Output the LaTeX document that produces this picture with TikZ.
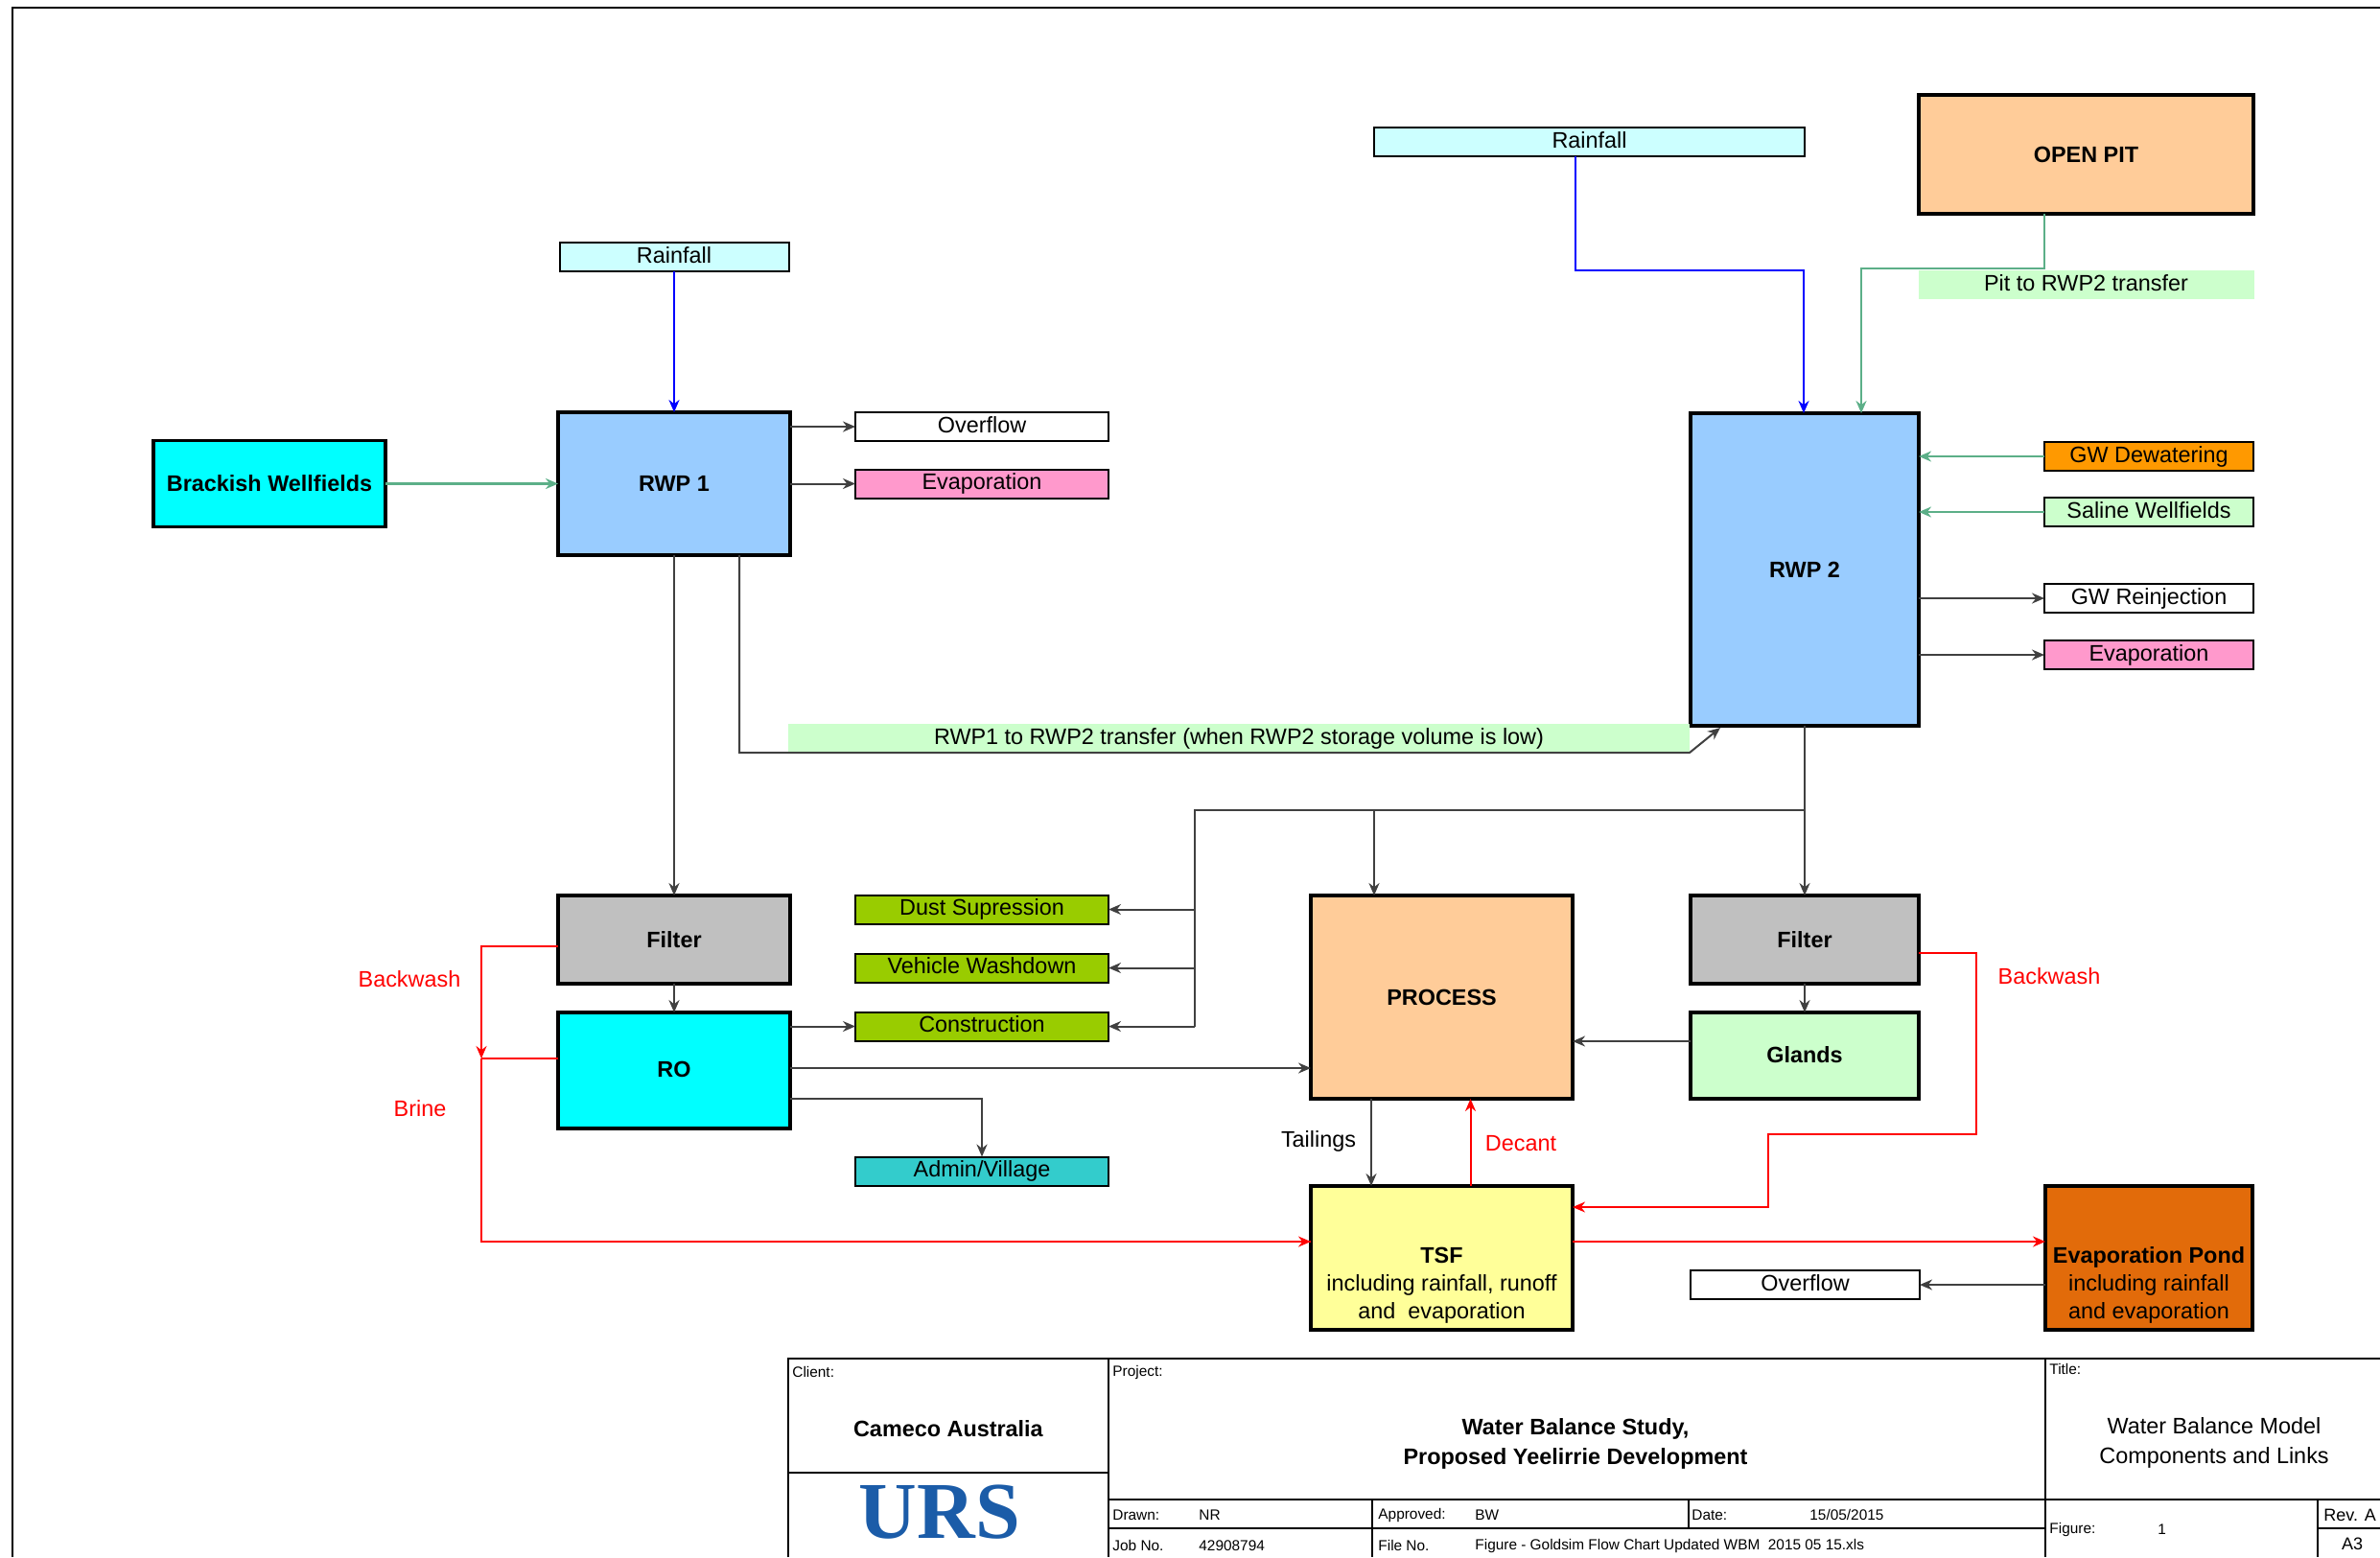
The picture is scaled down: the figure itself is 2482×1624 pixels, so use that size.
\documentclass[tikz,border=0pt]{standalone}
\usepackage{fontspec}
\setmainfont{Liberation Sans}
\newfontfamily\logofont{Liberation Serif}
\usepackage{tikz}
\usetikzlibrary{arrows.meta, positioning}
\definecolor{SheetBlue}{HTML}{99CCFF}
\definecolor{SheetCyan}{HTML}{00FFFF}
\definecolor{SheetSky}{HTML}{CCFFFF}
\definecolor{SheetMint}{HTML}{CCFFCC}
\definecolor{SheetTan}{HTML}{FFCC99}
\definecolor{SheetLime}{HTML}{99CC00}
\definecolor{SheetTeal}{HTML}{33CCCC}
\definecolor{SheetPink}{HTML}{FF99CC}
\definecolor{SheetAmber}{HTML}{FF9900}
\definecolor{SheetRust}{HTML}{E26B0A}
\definecolor{SheetLemon}{HTML}{FFFF99}
\definecolor{SheetGrey}{HTML}{C0C0C0}
\definecolor{LinkGreen}{HTML}{5CAF88}
\definecolor{LogoBlue}{HTML}{1B5CA8}
\tikzstyle{block} = [rectangle, text centered, draw=black, line width=1.6pt, outer sep=0pt, inner sep=0pt, align=center, font=\fontsize{11.7}{14.5}\selectfont]
\tikzstyle{stream} = [rectangle, text centered, draw=black, line width=1pt, outer sep=0pt, inner sep=0pt, minimum width=132pt, minimum height=15pt, text height=8.5pt, text depth=2.5pt, font=\fontsize{11.7}{14}\selectfont]
\tikzstyle{tag} = [rectangle, text centered, outer sep=0pt, inner sep=0pt, fill=SheetMint, minimum height=15pt, text height=8.5pt, text depth=2.5pt, font=\fontsize{11.7}{14}\selectfont]
\tikzstyle{redtext} = [text=red, inner sep=0pt, font=\fontsize{11.7}{14}\selectfont]
\tikzstyle{arrow} = [line width=1pt, black!75, -{Stealth[length=6.5pt, width=5.5pt]}]
\tikzstyle{redarrow} = [line width=1pt, red, -{Stealth[length=6.5pt, width=5.5pt]}]
\tikzstyle{bluearrow} = [line width=1pt, blue, -{Stealth[length=6.5pt, width=5.5pt]}]
\tikzstyle{greenarrow} = [line width=1.3pt, LinkGreen, -{Stealth[length=6.5pt, width=5.5pt]}]
\tikzstyle{tblline} = [line width=0.9pt, black]
\tikzstyle{tblsmall} = [anchor=west, inner sep=0pt, font=\fontsize{7.7}{9}\selectfont]
\tikzstyle{tblmain} = [inner sep=0pt, align=center, font=\fontsize{11.7}{15.5}\selectfont]
\newcommand{\boxhead}[1]{\textbf{#1}}

\begin{document}
\begin{tikzpicture}[x=0.5pt, y=-0.5pt]
  \useasboundingbox (0,0) rectangle (2482,1624);
  \draw [tblline] (13,1624) -- (13,8) -- (2482,8);

  % left water pond and what hangs on it
  \node (rwpone) [block, fill=SheetBlue, minimum width=121pt, minimum height=74.5pt] at (703,504.5) {\boxhead{RWP 1}};
  \node (rainone) [stream, fill=SheetSky, minimum width=119.5pt, above=73.5pt of rwpone] {Rainfall};
  \node (brackish) [block, fill=SheetCyan, minimum width=121pt, minimum height=45pt, left=90pt of rwpone] {\boxhead{Brackish Wellfields}};
  \node (overflowone) [stream, right=34pt of rwpone.east, yshift=29.75pt] {Overflow};
  \node (evapone) [stream, fill=SheetPink, right=34pt of rwpone] {Evaporation};
  \node (filterone) [block, fill=SheetGrey, minimum width=121pt, minimum height=46pt, below=177.5pt of rwpone] {\boxhead{Filter}};
  \node (ro) [block, fill=SheetCyan, minimum width=121pt, minimum height=60.5pt, below=15pt of filterone] {\raisebox{1pt}{\boxhead{RO}}};
  \node (dust) [stream, fill=SheetLime, right=34pt of filterone.east, yshift=15.75pt] {Dust Supression};
  \node (vehicle) [stream, fill=SheetLime, below=15.5pt of dust] {Vehicle Washdown};
  \node (construction) [stream, fill=SheetLime, below=15.5pt of vehicle] {Construction};
  \node (admin) [stream, fill=SheetTeal, below=60.5pt of construction] {Admin/Village};

  % process and tailings
  \node (process) [block, fill=SheetTan, minimum width=136.5pt, minimum height=106pt] at (1503.5,1040) {\boxhead{PROCESS}};
  \node (tsf) [block, fill=SheetLemon, minimum width=136.5pt, minimum height=75pt, below=45.5pt of process] {~\\[8pt]~\\\boxhead{TSF}\\including rainfall, runoff\\and\ \ evaporation};
  \node (pond) [block, fill=SheetRust, minimum width=108pt, minimum height=75pt, right=246.5pt of tsf] {~\\[8pt]~\\\boxhead{Evaporation Pond}\\including rainfall\\and evaporation};
  \node (overflowtwo) [stream, minimum width=119.5pt, left=65.5pt of pond, yshift=-14pt] {Overflow};

  % right water pond
  \node (rwptwo) [block, fill=SheetBlue, minimum width=119pt, minimum height=163pt] at (1882,594) {\boxhead{RWP 2}};
  \node (filtertwo) [block, fill=SheetGrey, minimum width=119pt, minimum height=46pt, below=88.5pt of rwptwo] {\boxhead{Filter}};
  \node (glands) [block, fill=SheetMint, minimum width=119pt, minimum height=45pt, below=15pt of filtertwo] {\raisebox{1pt}{\boxhead{Glands}}};
  \node (raintwo) [stream, fill=SheetSky, minimum width=224.5pt] at (1657.5,148) {Rainfall};
  \node (openpit) [block, fill=SheetTan, minimum width=174.5pt, minimum height=62pt] at (2175.5,161) {\boxhead{OPEN PIT}};
  \node (pittag) [tag, minimum width=175pt, below=29.5pt of openpit] {Pit to RWP2 transfer};
  \node (dewater) [stream, fill=SheetAmber, minimum width=109pt, right=65.5pt of rwptwo.east, yshift=59pt] {GW Dewatering};
  \node (saline) [stream, fill=SheetMint, minimum width=109pt, below=14pt of dewater] {Saline Wellfields};
  \node (reinject) [stream, minimum width=109pt, below=30pt of saline] {GW Reinjection};
  \node (evaptwo) [stream, fill=SheetPink, minimum width=109pt, below=14.5pt of reinject] {Evaporation};
  \node (transfertag) [tag, minimum width=470pt] at (1292,770) {RWP1 to RWP2 transfer (when RWP2 storage volume is low)};

  % free labels
  \node (bwleft) [redtext] at (427,1021) {Backwash};
  \node (brine) [redtext] at (438,1156) {Brine};
  \node (bwright) [redtext] at (2137,1018) {Backwash};
  \node (tailings) [inner sep=0pt, font=\fontsize{11.7}{14}\selectfont] at (1375,1190) {Tailings};
  \node (decant) [redtext] at (1586,1193) {Decant};

  \coordinate (supply) at (1246,845);
  \coordinate (rwpsplit) at (rwptwo |- supply);
  \coordinate (procin) at ([xshift=-35.25pt]process.north);
  \coordinate (brinejoin) at (502,1104);
  \coordinate (brinein) at ([yshift=8.5pt]tsf.west);
  \coordinate (bwbend) at (2061,1183);
  \coordinate (bwdrop) at (1844,1183);
  \coordinate (bwin) at ([yshift=26.5pt]tsf.east);
  \coordinate (lowrun) at (771,785);
  \coordinate (lowend) at (1762,785);
  \coordinate (lowtip) at (1794,759);
  \coordinate (rainrun) at (1881,282);
  \coordinate (pitrun) at (1941,280);

  \draw [bluearrow] (rainone) -- (rwpone);
  \draw [greenarrow] (brackish) -- (rwpone);
  \draw [arrow] (rwpone.east |- overflowone) -- (overflowone);
  \draw [arrow] (rwpone) -- (evapone);
  \draw [arrow] (rwpone) -- (filterone);
  \draw [arrow] (filterone) -- (ro);
  \draw [arrow] (ro.east |- construction) -- (construction);
  \draw [arrow] ([yshift=1.25pt]ro.east) -- ([yshift=1.25pt]ro.east -| process.west);
  \draw [arrow] ([yshift=-14.75pt]ro.east) -| (admin);
  \draw [arrow] (rwpone.south -| lowrun) -- (lowrun) -- (lowend) -- (lowtip);

  \draw [bluearrow] ([xshift=-7.25pt]raintwo.south) |- (rainrun) -- (rainrun |- rwptwo.north);
  \draw [greenarrow] ([xshift=-21.75pt]openpit.south) |- (pitrun) -- (pitrun |- rwptwo.north);
  \draw [greenarrow] (dewater) -- (rwptwo.east |- dewater);
  \draw [greenarrow] (saline) -- (rwptwo.east |- saline);
  \draw [arrow] (rwptwo.east |- reinject) -- (reinject);
  \draw [arrow] (rwptwo.east |- evaptwo) -- (evaptwo);
  \draw [arrow] (rwptwo) -- (filtertwo);
  \draw [arrow] (filtertwo) -- (glands);
  \draw [arrow] ([yshift=7.5pt]glands.west) -- ([yshift=7.5pt]glands.west -| process.east);
  \draw [line width=1pt, black!75] (rwpsplit) -- (supply) -- (supply |- construction);
  \draw [arrow] (procin |- supply) -- (procin);
  \draw [arrow] (supply |- dust) -- (dust);
  \draw [arrow] (supply |- vehicle) -- (vehicle);
  \draw [arrow] (supply |- construction) -- (construction);
  \draw [arrow] ([xshift=-36.75pt]process.south) -- ([xshift=-36.75pt]tsf.north);
  \draw [redarrow] ([xshift=15pt]tsf.north) -- ([xshift=15pt]process.south);
  \draw [redarrow] ([yshift=-3.5pt]filterone.west) -| (brinejoin);
  \draw [red, line width=1pt] ([yshift=6.25pt]ro.west) -- (brinejoin);
  \draw [red, line width=1pt] (brinejoin) |- (brinein);
  \draw [redarrow] (brinejoin |- brinein) -- (brinein);
  \draw [redarrow] ([yshift=-7pt]filtertwo.east) -| (bwbend) -- (bwdrop) |- (bwin);
  \draw [redarrow] (tsf.east |- brinein) -- (pond.west |- brinein);
  \draw [arrow] (pond.west |- overflowtwo) -- (overflowtwo);

  % title block
  \draw [tblline] (822,1624) -- (822,1417) -- (2482,1417);
  \draw [tblline] (822,1536) -- (1156,1536);
  \draw [tblline] (1156,1417) -- (1156,1624);
  \draw [tblline] (2133,1417) -- (2133,1624);
  \draw [tblline] (1156,1564) -- (2482,1564);
  \draw [tblline] (1156,1594) -- (2133,1594);
  \draw [tblline] (2417,1594) -- (2482,1594);
  \draw [tblline] (2417,1564) -- (2417,1624);
  \draw [tblline] (1431,1564) -- (1431,1624);
  \draw [tblline] (1761,1564) -- (1761,1594);

  \node (clientlbl) [tblsmall] at (826,1431) {Client:};
  \node (client) [tblmain] at (989,1490) {\textbf{Cameco Australia}};
  \node (urs) [inner sep=0pt, text=LogoBlue, font=\logofont\fontsize{42}{42}\selectfont] at (980,1577) {\textbf{URS}};
  \node (projectlbl) [tblsmall] at (1160,1431) {Project:};
  \node (project) [tblmain] at (1643,1506) {\textbf{Water Balance Study,}\\\textbf{Proposed Yeelirrie Development}};
  \node (titlelbl) [tblsmall] at (2137,1428) {Title:};
  \node (title) [tblmain] at (2309,1505) {Water Balance Model\\Components and Links};
  \node (drawnlbl) [tblsmall] at (1160,1580) {Drawn:};
  \node (drawn) [tblsmall] at (1250,1580) {NR};
  \node (joblbl) [tblsmall] at (1160,1612) {Job No.};
  \node (job) [tblsmall] at (1250,1612) {42908794};
  \node (approvedlbl) [tblsmall] at (1437,1580) {Approved:};
  \node (approved) [tblsmall] at (1538,1580) {BW};
  \node (filelbl) [tblsmall] at (1437,1612) {File No.};
  \node (file) [tblsmall] at (1538,1612) {Figure - Goldsim Flow Chart Updated WBM\ \ 2015 05 15.xls};
  \node (datelbl) [tblsmall] at (1764,1580) {Date:};
  \node (date) [tblsmall] at (1887,1580) {15/05/2015};
  \node (figurelbl) [tblsmall] at (2137,1595) {Figure:};
  \node (figure) [tblsmall] at (2250,1595) {1};
  \node (rev) [tblsmall, font=\fontsize{9}{11}\selectfont] at (2423,1580) {Rev. A};
  \node (sheet) [inner sep=0pt, font=\fontsize{9}{11}\selectfont] at (2453,1610) {A3};
\end{tikzpicture}
\end{document}
